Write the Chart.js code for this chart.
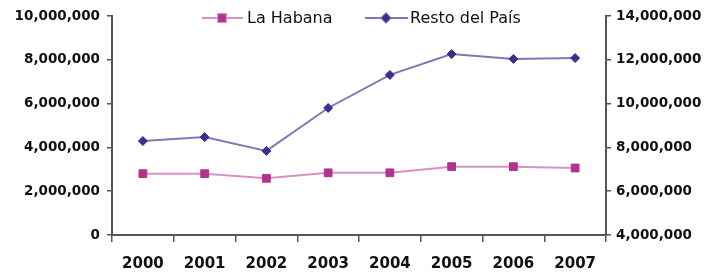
<!DOCTYPE html>
<html>
<head>
<meta charset="utf-8">
<script src="https://cdn.jsdelivr.net/npm/chart.js@4/dist/chart.umd.min.js"></script>
<style>
  html, body { margin: 0; padding: 0; background: #fff; }
  #wrap { width: 718px; height: 276px; position: relative; }
</style>
</head>
<body>
<div id="wrap"><canvas id="chart"></canvas></div>
<script>
// datos
const years = ['2000', '2001', '2002', '2003', '2004', '2005', '2006', '2007'];
const laHabana = [2800000, 2800000, 2590000, 2840000, 2840000, 3120000, 3120000, 3060000];
const restoPais = [8290000, 8470000, 7840000, 9800000, 11310000, 12260000, 12040000, 12080000];
const leftTicks = [0, 10000000, 2000000];      // min, max, paso
const rightTicks = [4000000, 14000000, 2000000];

const pink = '#b2338f';
const pinkLine = '#d891c2';
const blue = '#3a2f8e';
const blueLine = '#7f78b8';
const axisColor = '#555555';
const tickFont = { family: 'DejaVu Sans', weight: 'bold', size: 13.5 };

const fmt = v => Number(v).toLocaleString('en-US');

// leyenda dibujada a mano (linea + marcador + texto)
const legendPlugin = {
    id: 'customLegend',
    afterDraw(chart) {
        const ctx = chart.ctx;
        const items = [
            { label: 'La Habana', ds: 0, x0: 202, x1: 243, mx: 222, tx: 247 },
            { label: 'Resto del País', ds: 1, x0: 365, x1: 408, mx: 386, tx: 410 }
        ];
        const y = 18;
        ctx.save();
        items.forEach(it => {
            const ds = chart.data.datasets[it.ds];
            ctx.strokeStyle = ds.borderColor;
            ctx.lineWidth = 2;
            ctx.beginPath();
            ctx.moveTo(it.x0, y);
            ctx.lineTo(it.x1, y);
            ctx.stroke();
            Chart.helpers.drawPoint(ctx, {
                pointStyle: ds.pointStyle,
                radius: ds.pointRadius,
                borderWidth: 1
            }, it.mx, y);
            ctx.fillStyle = ds.pointBackgroundColor;
            ctx.strokeStyle = ds.pointBorderColor;
            ctx.fill();
            ctx.fillStyle = '#111';
            ctx.font = '16px "DejaVu Sans"';
            ctx.textBaseline = 'middle';
            ctx.textAlign = 'left';
            ctx.fillText(it.label, it.tx, y + 1);
        });
        ctx.restore();
    }
};

const ctx = document.getElementById('chart').getContext('2d');

const chart = new Chart(ctx, {
    type: 'line',
    data: {
        labels: years,
        datasets: [{
            label: 'La Habana',
            data: laHabana,
            yAxisID: 'y',
            borderColor: pinkLine,
            borderWidth: 2,
            pointStyle: 'rect',
            pointRadius: 5.5,
            pointBackgroundColor: pink,
            pointBorderColor: pink,
            pointBorderWidth: 1,
            tension: 0,
            fill: false
        }, {
            label: 'Resto del País',
            data: restoPais,
            yAxisID: 'y1',
            borderColor: blueLine,
            borderWidth: 2,
            pointStyle: 'rectRot',
            pointRadius: 4.5,
            pointBackgroundColor: blue,
            pointBorderColor: blue,
            pointBorderWidth: 1,
            tension: 0,
            fill: false
        }]
    },
    options: {
        responsive: true,
        maintainAspectRatio: false,
        animation: false,
        layout: { padding: { top: 16, left: 0, right: 0, bottom: 0 } },
        plugins: {
            legend: { display: false },
            tooltip: { enabled: false }
        },
        scales: {
            x: {
                offset: true,
                grid: {
                    offset: true,
                    drawOnChartArea: false,
                    tickLength: 7,
                    color: axisColor,
                    lineWidth: 1.5
                },
                border: { display: true, color: axisColor, width: 2 },
                ticks: {
                    color: '#111',
                    font: { family: 'DejaVu Sans', weight: 'bold', size: 15 },
                    padding: 13,
                    maxRotation: 0
                },
                afterFit(scale) { scale.height = 41; }
            },
            y: {
                position: 'left',
                min: leftTicks[0],
                max: leftTicks[1],
                grid: {
                    drawOnChartArea: false,
                    tickLength: 5,
                    color: axisColor,
                    lineWidth: 1.5
                },
                border: { display: true, color: axisColor, width: 2 },
                ticks: {
                    stepSize: leftTicks[2],
                    color: '#111',
                    font: tickFont,
                    padding: 7,
                    callback: v => fmt(v)
                },
                afterFit(scale) { scale.width = 112; }
            },
            y1: {
                position: 'right',
                min: rightTicks[0],
                max: rightTicks[1],
                grid: {
                    drawOnChartArea: false,
                    tickLength: 5,
                    color: axisColor,
                    lineWidth: 1.5
                },
                border: { display: true, color: axisColor, width: 2 },
                ticks: {
                    stepSize: rightTicks[2],
                    color: '#111',
                    font: tickFont,
                    padding: 5,
                    callback: v => fmt(v)
                },
                afterFit(scale) { scale.width = 112; }
            }
        }
    },
    plugins: [legendPlugin]
});
</script>
</body>
</html>
